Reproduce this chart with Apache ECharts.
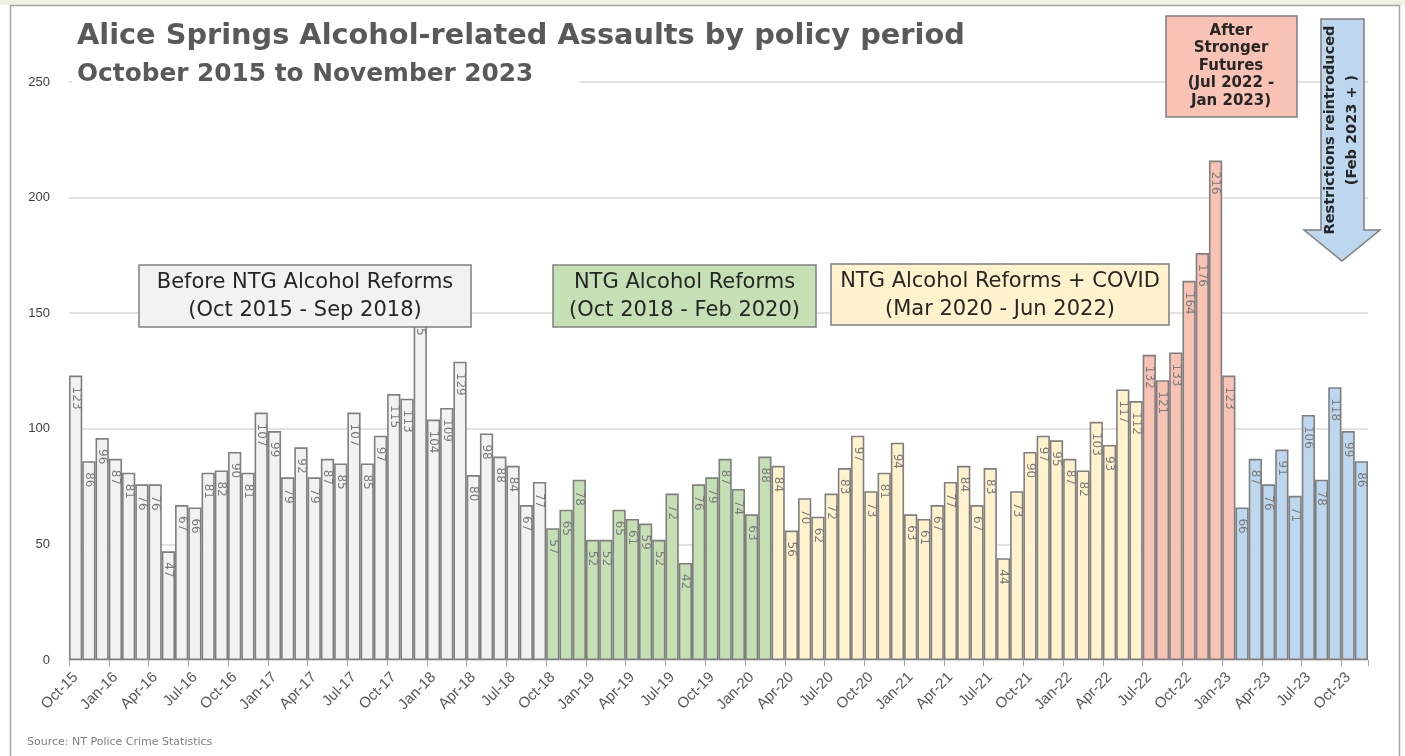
<!DOCTYPE html>
<html lang="en">
<head>
<meta charset="UTF-8">
<title>Alice Springs Alcohol-related Assaults</title>
<script src="https://cdn.jsdelivr.net/npm/echarts@6/dist/echarts.min.js"></script>
<style>
html,body{margin:0;padding:0;background:#fff;}
#chart{width:1405px;height:756px;}
</style>
</head>
<body>
<div id="chart"></div>
<script>
// month labels, Oct-15 .. Nov-23
var monthNames = ['Jan','Feb','Mar','Apr','May','Jun','Jul','Aug','Sep','Oct','Nov','Dec'];
var startYear = 2015, startMonth = 9, monthCount = 98;

// monthly assaults for each policy period
var beforeReforms = [123,86,96,87,81,76,76,47,67,66,81,82,90,81,107,99,79,92,79,87,85,107,85,97,115,113,155,104,109,129,80,98,88,84,67,77];
var reforms = [57,65,78,52,52,65,61,59,52,72,42,76,79,87,74,63,88];
var reformsCovid = [84,56,70,62,72,83,97,73,81,94,63,61,67,77,84,67,83,44,73,90,97,95,87,82,103,93,117,112];
var afterStrongerFutures = [132,121,133,164,176,216,123];
var restrictions = [66,87,76,91,71,106,78,118,99,86];

var yTicks = [0,50,100,150,200,250];

var periods = [beforeReforms, reforms, reformsCovid, afterStrongerFutures, restrictions];
var periodColors = ['#f2f2f2','#c5e0b4','#fff2cc','#f8c3b4','#bdd7ee'];

var categories = [];
for (var i = 0; i < monthCount; i++) {
    var m = (startMonth + i) % 12;
    var y = startYear + Math.floor((startMonth + i) / 12);
    categories.push(monthNames[m] + '-' + String(y).slice(2));
}

var barData = [];
periods.forEach(function(list, p){
    list.forEach(function(v){
        barData.push({value: v, itemStyle: {color: periodColors[p]}});
    });
});

var boxFont = '21px "DejaVu Sans"';

function box(x, y, w, h, fill, lines){
    return {
        type: 'group',
        children: [
            {type: 'rect', z: 100, shape: {x: x, y: y, width: w, height: h},
             style: {fill: fill, stroke: '#7f7f7f', lineWidth: 1.5}},
            {type: 'text', z: 101, x: x + w / 2, y: y + h / 2 + 1,
             style: {text: lines.join('\n'), font: boxFont, fill: '#262626',
                     align: 'center', verticalAlign: 'middle', lineHeight: 28}}
        ]
    };
}

var chart = echarts.init(document.getElementById('chart'));
var option = {
    backgroundColor: '#fff',
    animation: false,
    title: [
        {
            text: 'Alice Springs Alcohol-related Assaults by policy period',
            left: 72, top: 17,
            textStyle: {fontFamily: 'DejaVu Sans', fontWeight: 'bold', fontSize: 28.8, color: '#595959'}
        },
        {
            text: 'October 2015 to November 2023',
            left: 72, top: 59, backgroundColor: '#fff', padding: [3, 46, 3, 5],
            textStyle: {fontFamily: 'DejaVu Sans', fontWeight: 'bold', fontSize: 24.8, color: '#595959'}
        }
    ],
    grid: {left: 69, right: 37, top: 82, bottom: 96},
    xAxis: {
        type: 'category',
        data: categories,
        boundaryGap: true,
        axisLine: {lineStyle: {color: '#d9d9d9', width: 1.5}},
        axisTick: {show: true, interval: 2, length: 6, lineStyle: {color: '#a6a6a6'}},
        axisLabel: {interval: 2, rotate: 45, margin: 15, color: '#595959',
                    fontFamily: 'Liberation Sans', fontSize: 15}
    },
    yAxis: {
        type: 'value',
        min: yTicks[0], max: yTicks[yTicks.length - 1], interval: 50,
        axisLine: {show: false},
        axisTick: {show: false},
        axisLabel: {color: '#404040', fontFamily: 'Liberation Sans', fontSize: 13, margin: 19},
        splitLine: {lineStyle: {color: '#d9d9d9', width: 1.5}}
    },
    series: [{
        type: 'bar',
        data: barData,
        barCategoryGap: '0%',
        itemStyle: {borderColor: '#7f7f7f', borderWidth: 1.6},
        label: {
            show: true, position: 'insideTop', rotate: -90,
            align: 'left', verticalAlign: 'middle', distance: 11,
            color: '#7a7a7a', fontFamily: 'DejaVu Sans', fontSize: 12
        }
    }],
    graphic: [
        {type: 'rect', z: 0, shape: {x: 0, y: 0, width: 1405, height: 5}, style: {fill: '#eef2e2'}},
        {type: 'rect', z: 100, shape: {x: 10.5, y: 5.5, width: 1389, height: 770},
         style: {fill: 'none', stroke: '#a6a6a6', lineWidth: 1.5}},
        box(139, 265, 332, 62, '#f2f2f2', ['Before NTG Alcohol Reforms', '(Oct 2015 - Sep 2018)']),
        box(553, 265, 263, 62, '#c5e0b4', ['NTG Alcohol Reforms', '(Oct 2018 - Feb 2020)']),
        box(831, 264, 338, 61, '#fff2cc', ['NTG Alcohol Reforms + COVID', '(Mar 2020 - Jun 2022)']),
        {
            type: 'group',
            children: [
                {type: 'rect', z: 100, shape: {x: 1166, y: 16, width: 131, height: 101},
                 style: {fill: '#f8c3b4', stroke: '#7f7f7f', lineWidth: 1.5}},
                {type: 'text', z: 101, x: 1231, y: 66,
                 style: {text: 'After\nStronger\nFutures\n(Jul 2022 -\nJan 2023)',
                         font: 'bold 15px "DejaVu Sans"', fill: '#262626',
                         align: 'center', verticalAlign: 'middle', lineHeight: 17.5}}
            ]
        },
        {
            type: 'group',
            children: [
                {type: 'polygon', z: 100,
                 shape: {points: [[1321,19],[1364,19],[1364,230],[1380,230],[1342,261],[1304,230],[1321,230]]},
                 style: {fill: '#bdd7ee', stroke: '#7f7f7f', lineWidth: 1.5}},
                {type: 'text', z: 101, x: 1341, y: 130, rotation: Math.PI / 2,
                 style: {text: 'Restrictions reintroduced\n(Feb 2023 + )',
                         font: 'bold 14.5px "DejaVu Sans"', fill: '#262626',
                         align: 'center', verticalAlign: 'middle', lineHeight: 22}}
            ]
        },
        {type: 'text', z: 100, left: 27, top: 737,
         style: {text: 'Source: NT Police Crime Statistics', font: '11px "DejaVu Sans"', fill: '#7f7f7f'}}
    ]
};
chart.setOption(option);
</script>
</body>
</html>
